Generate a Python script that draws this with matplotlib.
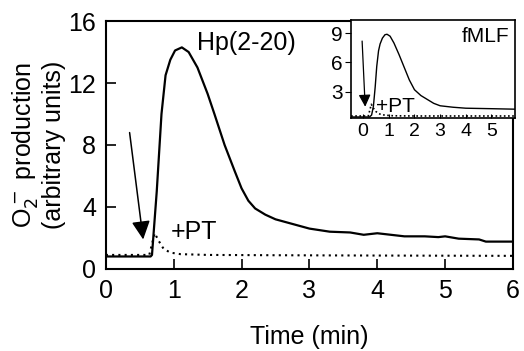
"""Superoxide production time course: Hp(2-20) with fMLF inset, +/- PT."""
import matplotlib
matplotlib.use('Agg')
import matplotlib.pyplot as plt

plt.rcParams['font.family'] = ['Liberation Sans', 'DejaVu Sans']

# main panel: Hp(2-20)
hp_t = [0.0, 0.66, 0.68, 0.75, 0.82, 0.88, 0.95, 1.02, 1.12, 1.22, 1.35, 1.5,
        1.6, 1.75, 1.9, 2.0, 2.1, 2.2, 2.35, 2.5, 2.75, 3.0, 3.3, 3.6, 3.8,
        4.0, 4.2, 4.4, 4.7, 4.9, 5.0, 5.2, 5.5, 5.6, 6.0]
hp_v = [0.8, 0.8, 0.9, 5.0, 10.0, 12.5, 13.5, 14.1, 14.3, 14.0, 13.0, 11.3,
        10.0, 8.0, 6.3, 5.2, 4.4, 3.9, 3.5, 3.2, 2.9, 2.6, 2.4, 2.35, 2.2,
        2.3, 2.2, 2.1, 2.1, 2.05, 2.1, 1.95, 1.9, 1.76, 1.76]
hp_pt_t = [0.0, 0.64, 0.68, 0.72, 0.78, 0.85, 0.95, 1.1, 1.5, 2.5, 4.0, 6.0]
hp_pt_v = [0.9, 0.9, 1.6, 2.3, 1.8, 1.3, 1.05, 0.95, 0.9, 0.88, 0.86, 0.84]

# inset: fMLF
fm_t = [-0.47, 0.25, 0.33, 0.4, 0.47, 0.53, 0.6, 0.66, 0.75, 0.85, 0.93, 1.05,
        1.2, 1.4, 1.6, 1.8, 2.0, 2.25, 2.5, 2.75, 3.0, 3.5, 4.0, 5.0, 5.9]
fm_v = [0.4, 0.4, 0.6, 1.5, 3.5, 5.6, 7.2, 7.9, 8.5, 8.85, 8.9, 8.7,
        8.0, 6.8, 5.5, 4.2, 3.2, 2.6, 2.2, 1.8, 1.55, 1.4, 1.3, 1.25, 1.2]
fm_pt_t = [-0.47, 0.2, 0.27, 0.32, 0.4, 0.5, 0.65, 0.85, 1.2, 2.0, 5.9]
fm_pt_v = [0.5, 0.5, 1.2, 1.7, 1.3, 0.95, 0.7, 0.58, 0.52, 0.5, 0.5]

fig = plt.figure(figsize=(5.24, 3.51), dpi=100)
ax = fig.add_axes([0.202, 0.234, 0.777, 0.706])

ax.plot(hp_t, hp_v, color='black', lw=1.6)
ax.plot(hp_pt_t, hp_pt_v, color='black', lw=1.5, linestyle=(0, (1, 2)))
ax.annotate('', xy=(0.55, 1.9), xytext=(0.35, 8.8),
            arrowprops=dict(arrowstyle='-|>', mutation_scale=28, color='black',
                            lw=1.1, shrinkA=0, shrinkB=0))
ax.text(1.34, 14.6, 'Hp(2-20)', fontsize=18, va='center', ha='left')
ax.text(0.95, 2.4, '+PT', fontsize=18, va='center', ha='left')

ax.set_xlim(0, 6)
ax.set_ylim(0, 16)
ax.set_xticks([0, 1, 2, 3, 4, 5, 6])
ax.set_yticks([0, 4, 8, 12, 16])
ax.tick_params(direction='in', length=7, width=1.2, labelsize=18, pad=7)
for s in ax.spines.values():
    s.set_linewidth(1.5)
ax.set_xlabel('Time (min)', fontsize=18, labelpad=16)
ax.set_ylabel('O$_2^-$ production\n(arbitrary units)', fontsize=18,
              labelpad=2, linespacing=1.1)

# inset
ins = fig.add_axes([0.670, 0.664, 0.312, 0.280])
ins.plot(fm_t, fm_v, color='black', lw=1.0)
ins.plot(fm_pt_t, fm_pt_v, color='black', lw=1.2, linestyle=(0, (1, 1.5)))
ins.annotate('', xy=(0.08, 1.45), xytext=(-0.04, 8.2),
             arrowprops=dict(arrowstyle='-|>', mutation_scale=18, color='black',
                             lw=0.9, shrinkA=0, shrinkB=0))
ins.text(0.5, 1.45, '+PT', fontsize=15, va='center', ha='left')
ins.text(0.97, 0.93, 'fMLF', fontsize=15, va='top', ha='right',
         transform=ins.transAxes)
ins.set_xlim(-0.47, 5.9)
ins.set_ylim(0.3, 10.4)
ins.set_xticks([0, 1, 2, 3, 4, 5])
ins.set_yticks([3, 6, 9])
ins.tick_params(axis='x', direction='in', length=3, labelsize=14, pad=4)
ins.tick_params(axis='y', direction='out', length=4, labelsize=15, pad=2)
for s in ins.spines.values():
    s.set_linewidth(1.2)

fig.savefig('out.png', dpi=100)
